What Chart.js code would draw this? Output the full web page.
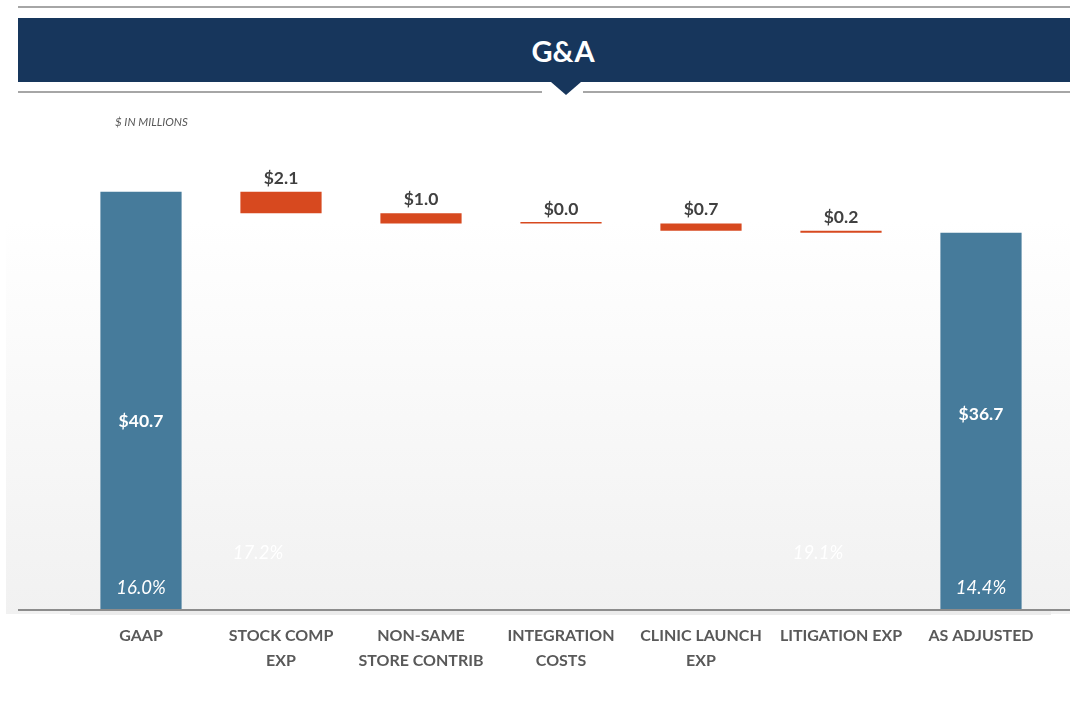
<!DOCTYPE html>
<html>
<head>
<meta charset="utf-8">
<script src="https://cdn.jsdelivr.net/npm/chart.js@4/dist/chart.umd.min.js"></script>
<style>
  html,body{margin:0;padding:0;background:#fff;}
  #wrap{position:relative;width:1070px;height:707px;overflow:hidden;font-family:Lato,"Open Sans",sans-serif;}
  #topline{position:absolute;left:18px;top:6px;width:1052px;height:2px;background:#a6a6a6;}
  #banner{position:absolute;left:18px;top:18px;width:1052px;height:64px;background:#17365c;color:#fff;
    font-weight:bold;font-size:29px;display:flex;align-items:center;justify-content:center;box-sizing:border-box;padding-left:38px;}
  #lineL{position:absolute;left:18px;top:91px;width:524px;height:2px;background:#a6a6a6;}
  #lineR{position:absolute;left:583px;top:91px;width:487px;height:2px;background:#a6a6a6;}
  #tri{position:absolute;left:551px;top:82px;width:0;height:0;border-left:15px solid transparent;border-right:15px solid transparent;border-top:13px solid #17365c;}
  #unit{position:absolute;left:115px;top:115px;font-size:11.5px;font-style:italic;color:#595959;}
  canvas{position:absolute;left:0;top:0;}
</style>
</head>
<body>
<div id="wrap">
  <canvas id="c" width="1070" height="707"></canvas>
  <div id="topline"></div>
  <div id="banner">G&amp;A</div>
  <div id="lineL"></div>
  <div id="lineR"></div>
  <div id="tri"></div>
  <div id="unit">$ IN MILLIONS</div>
</div>
<script>
// ---- data ----
const categories = [["GAAP"],["STOCK COMP","EXP"],["NON-SAME","STORE CONTRIB"],["INTEGRATION","COSTS"],["CLINIC LAUNCH","EXP"],["LITIGATION EXP"],["AS ADJUSTED"]];
const values = [40.7, -2.1, -1.0, 0.0, -0.7, -0.2, 36.7];
const isTotal = [true, false, false, false, false, false, true];
const valueLabels = ["$40.7","$2.1","$1.0","$0.0","$0.7","$0.2","$36.7"];
const marginLabels = ["16.0%","17.2%","","","","19.1%","14.4%"];

// build floating ranges
const ranges = [];
let running = 0;
values.forEach((v,i)=>{
  if(isTotal[i]){ ranges.push([0,v]); running=v; }
  else { const nxt = +(running + v).toFixed(2); ranges.push([nxt, running]); running = nxt; }
});

const BLUE = "#467b9b", RED = "#d7491f";

const bgPlugin = {
  id:'bg',
  beforeDraw(chart){
    const ctx = chart.ctx;
    const g = ctx.createLinearGradient(0,220,0,614);
    g.addColorStop(0,'#ffffff');
    g.addColorStop(1,'#f1f1f1');
    ctx.save();
    ctx.fillStyle = g;
    ctx.fillRect(6,220,1064,394);
    ctx.fillStyle = '#ebebeb';
    ctx.fillRect(70,611,981,4);
    ctx.restore();
  },
  afterDatasetsDraw(chart){
    const ctx = chart.ctx;
    const x = chart.scales.x, y = chart.scales.y;
    const base = y.getPixelForValue(0);
    ctx.save();
    ctx.fillStyle = '#8c8c8c';
    ctx.fillRect(18, base-1, 1052, 2);
    ctx.textAlign = 'center';
    values.forEach((v,i)=>{
      const cx = x.getPixelForValue(i);
      if(isTotal[i]){
        ctx.fillStyle = '#ffffff';
        ctx.font = 'bold 17.5px Lato, "Open Sans", sans-serif';
        ctx.textBaseline = 'middle';
        const mid = (y.getPixelForValue(ranges[i][1]) + base)/2;
        const off = i===0 ? 20 : -7;
        ctx.fillText(valueLabels[i], cx, mid+off);
      } else {
        ctx.fillStyle = '#404040';
        ctx.font = 'bold 17.5px Lato, "Open Sans", sans-serif';
        ctx.textBaseline = 'bottom';
        const top = y.getPixelForValue(ranges[i][1]);
        ctx.fillText(valueLabels[i], cx, top-5);
      }
      if(marginLabels[i]){
        ctx.font = 'italic 18.5px Lato, "Open Sans", sans-serif';
        ctx.textBaseline = 'middle';
        ctx.fillStyle = '#ffffff';
        let px = cx, py = base-22;
        if(!isTotal[i]){ px = cx-23; py = base-57; }
        ctx.fillText(marginLabels[i], px, py);
      }
    });
    ctx.restore();
  }
};

new Chart(document.getElementById('c'), {
  type:'bar',
  data:{
    labels: categories,
    datasets:[{
      data: ranges,
      backgroundColor: isTotal.map(t=> t?BLUE:RED),
      borderWidth:0,
      minBarLength:1.5,
      barPercentage:0.58,
      categoryPercentage:1
    }]
  },
  options:{
    responsive:false,
    animation:false,
    layout:{padding:{left:71,right:19,top:127,bottom:0}},
    plugins:{legend:{display:false},tooltip:{enabled:false}},
    scales:{
      x:{
        grid:{display:false,drawTicks:false},
        border:{display:false},
        ticks:{
          color:'#595959',
          font:{family:'Lato, "Open Sans", sans-serif',size:16,weight:'bold',lineHeight:1.56},
          padding:13,
          maxRotation:0,autoSkip:false
        },
        afterFit(scale){ scale.height = 97; }
      },
      y:{display:false,min:0,max:47}
    }
  },
  plugins:[bgPlugin]
});
</script>
</body>
</html>
